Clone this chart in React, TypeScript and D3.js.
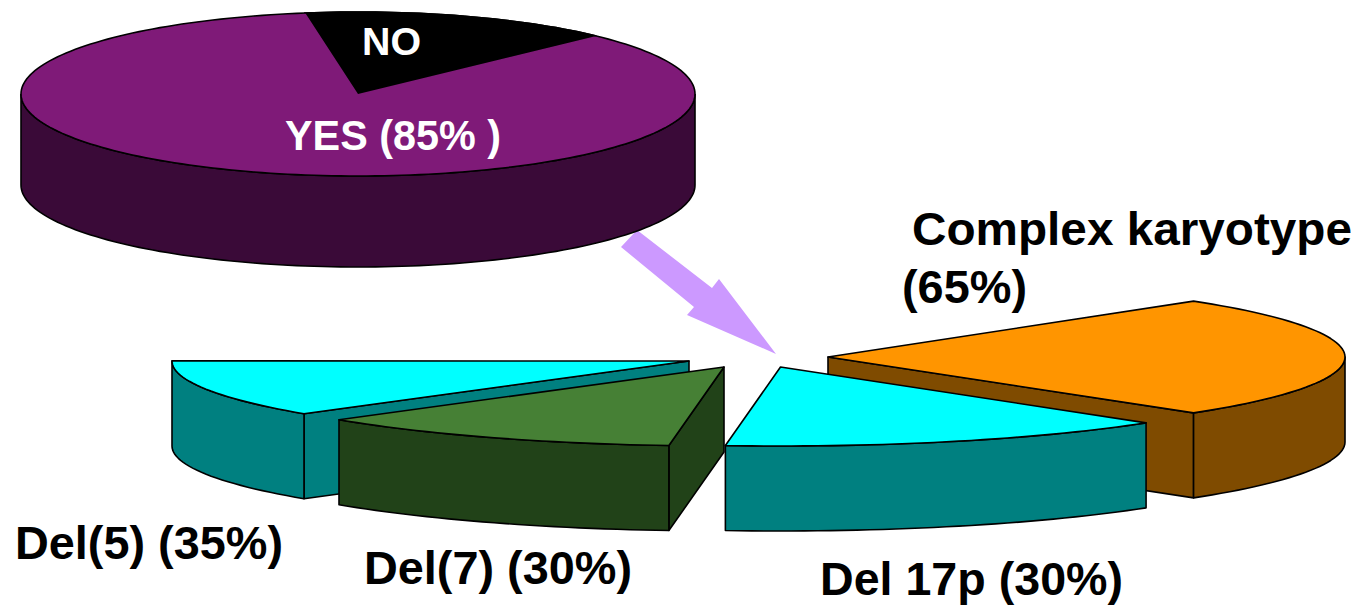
import React from "react";
import * as d3 from "d3";

// Upper pie: share of cases with an abnormality
const topCategories = ["NO", "YES"];
const topValues = [15, 85];

// Lower exploded pie: labels state the reported frequency, sweeps give each wedge's share of the circle
const lowerCategories = ["Complex karyotype", "Del 17p", "Del(7)", "Del(5)"];
const lowerPercents = [65, 30, 30, 35];
const lowerSweepShares = [25, 14.2, 11.67, 11.65];
const lowerUndrawnShare = 37.48;

const W = 1359;
const H = 605;
const RAD = Math.PI / 180;

const topPie = { cx: 358, cy: 94, rx: 337, ry: 82, depth: 91 };
const lowerPie = { rx: 517, ry: 79, depth: 85 };
const lowerApexes = [
  [828, 357],
  [780.5, 367],
  [724, 367],
  [689, 361],
];

const arrowPoints: [number, number][] = [
  [621, 247], [637, 230], [712, 288], [719, 279], [776, 354], [687, 315], [694, 307],
];

const colors = {
  yes: "#7f1a78",
  yesDark: "#3a0a38",
  no: "#000000",
  arrow: "#cc99ff",
  complex: "#ff9500",
  complexDark: "#7f4b00",
  cyan: "#00ffff",
  teal: "#008080",
  green: "#468035",
  greenDark: "#214218",
};

const sans = "'Liberation Sans', Arial, sans-serif";
const pathOf = d3.line<[number, number]>();

type Geo = { cx: number; cy: number; rx: number; ry: number; depth: number };

// Projects a pie angle (clockwise from 12 o'clock) onto the tilted ellipse
function projector(g: Geo) {
  const x = d3.scaleLinear().domain([-1, 1]).range([g.cx - g.rx, g.cx + g.rx]);
  const y = d3.scaleLinear().domain([-1, 1]).range([g.cy - g.ry, g.cy + g.ry]);
  return (a: number, drop = 0): [number, number] => [x(Math.sin(a)), y(-Math.cos(a)) + drop];
}

function arcPoints(g: Geo, a0: number, a1: number, drop = 0) {
  const p = projector(g);
  const n = Math.max(2, Math.ceil(Math.abs(a1 - a0) / (1.5 * RAD)));
  return d3.range(n + 1).map((i) => p(a0 + ((a1 - a0) * i) / n, drop));
}

function Wedge3D({
  g, a0, a1, top, side, label,
}: { g: Geo; a0: number; a1: number; top: string; side: string; label: string }) {
  const apex: [number, number] = [g.cx, g.cy];
  const apexLow: [number, number] = [g.cx, g.cy + g.depth];
  const p = projector(g);
  const frontStart = Math.max(a0, 90 * RAD);
  const frontEnd = Math.min(a1, 270 * RAD);
  // A cut face shows only when its outward normal points towards the viewer
  const faces: [number, number][][] = [];
  if (Math.sin(a1) > 0) faces.push([apex, p(a1), p(a1, g.depth), apexLow]);
  if (Math.sin(a0) < 0) faces.push([apex, p(a0), p(a0, g.depth), apexLow]);
  return (
    <g data-slice={label} stroke="#000" strokeWidth={1.6} strokeLinejoin="round">
      {faces.map((f, i) => (
        <path key={i} d={pathOf(f) + "Z"} fill={side} />
      ))}
      {frontEnd > frontStart && (
        <path
          d={
            pathOf([
              ...arcPoints(g, frontStart, frontEnd),
              ...arcPoints(g, frontEnd, frontStart, g.depth),
            ]) + "Z"
          }
          fill={side}
        />
      )}
      <path d={pathOf([apex, ...arcPoints(g, a0, a1)]) + "Z"} fill={top} />
    </g>
  );
}

// Bold label fitted to a set advance width
function Label({
  x, y, w, size, fill = "#000", children,
}: { x: number; y: number; w: number; size: number; fill?: string; children: string }) {
  return (
    <text x={x} y={y} fontSize={size} fill={fill} textLength={w} lengthAdjust="spacingAndGlyphs">
      {children}
    </text>
  );
}

export default function App() {
  const topArcs = d3
    .pie<number>()
    .sort(null)
    .startAngle(-9 * RAD)
    .endAngle(351 * RAD)(topValues);

  const lowerArcs = d3
    .pie<number>()
    .sort(null)
    .startAngle(45 * RAD)
    .endAngle(405 * RAD)([...lowerSweepShares, lowerUndrawnShare]);

  const lowerGeo = lowerApexes.map(
    ([cx, cy]): Geo => ({ cx, cy, rx: lowerPie.rx, ry: lowerPie.ry, depth: lowerPie.depth })
  );
  const lowerStyles = [
    { top: colors.complex, side: colors.complexDark },
    { top: colors.cyan, side: colors.teal },
    { top: colors.green, side: colors.greenDark },
    { top: colors.cyan, side: colors.teal },
  ];
  const paintOrder = [0, 3, 2, 1];
  const pct = (i: number) => `(${lowerPercents[i]}%)`;

  return (
    <svg
      width={W}
      height={H}
      viewBox={`0 0 ${W} ${H}`}
      style={{ position: "absolute", left: 0, top: 0, background: "#fff" }}
      fontFamily={sans}
    >
      <path d={pathOf(arrowPoints) + "Z"} fill={colors.arrow} />

      {/* Upper pie */}
      <g stroke="#000" strokeWidth={1.6}>
        <path
          d={
            pathOf([
              ...arcPoints(topPie, 90 * RAD, 270 * RAD),
              ...arcPoints(topPie, 270 * RAD, 90 * RAD, topPie.depth),
            ]) + "Z"
          }
          fill={colors.yesDark}
        />
        {topArcs.map((a, i) => (
          <path
            key={topCategories[i]}
            d={
              pathOf([
                [topPie.cx, topPie.cy],
                ...arcPoints(topPie, a.startAngle, a.endAngle),
              ]) + "Z"
            }
            fill={i === 0 ? colors.no : colors.yes}
            stroke={i === 0 ? "#000" : "none"}
          />
        ))}
        <path d={pathOf(arcPoints(topPie, 0, 360 * RAD)) ?? ""} fill="none" />
      </g>

      {/* Lower exploded wedges */}
      {paintOrder.map((i) => (
        <Wedge3D
          key={lowerCategories[i]}
          g={lowerGeo[i]}
          a0={lowerArcs[i].startAngle}
          a1={lowerArcs[i].endAngle}
          top={lowerStyles[i].top}
          side={lowerStyles[i].side}
          label={lowerCategories[i]}
        />
      ))}

      <g fontWeight="bold">
        <Label x={362} y={55} w={59} size={39} fill="#fff">{topCategories[0]}</Label>
        <Label x={285} y={150} w={216} size={42} fill="#fff">{`${topCategories[1]} (${topValues[1]}% )`}</Label>
        <Label x={912} y={245} w={440} size={47}>{lowerCategories[0]}</Label>
        <Label x={902} y={303} w={125} size={47}>{pct(0)}</Label>
        <Label x={15} y={559} w={268} size={47}>{`${lowerCategories[3]} ${pct(3)}`}</Label>
        <Label x={364} y={584} w={268} size={47}>{`${lowerCategories[2]} ${pct(2)}`}</Label>
        <Label x={820} y={595} w={303} size={47}>{`${lowerCategories[1]} ${pct(1)}`}</Label>
      </g>
    </svg>
  );
}
